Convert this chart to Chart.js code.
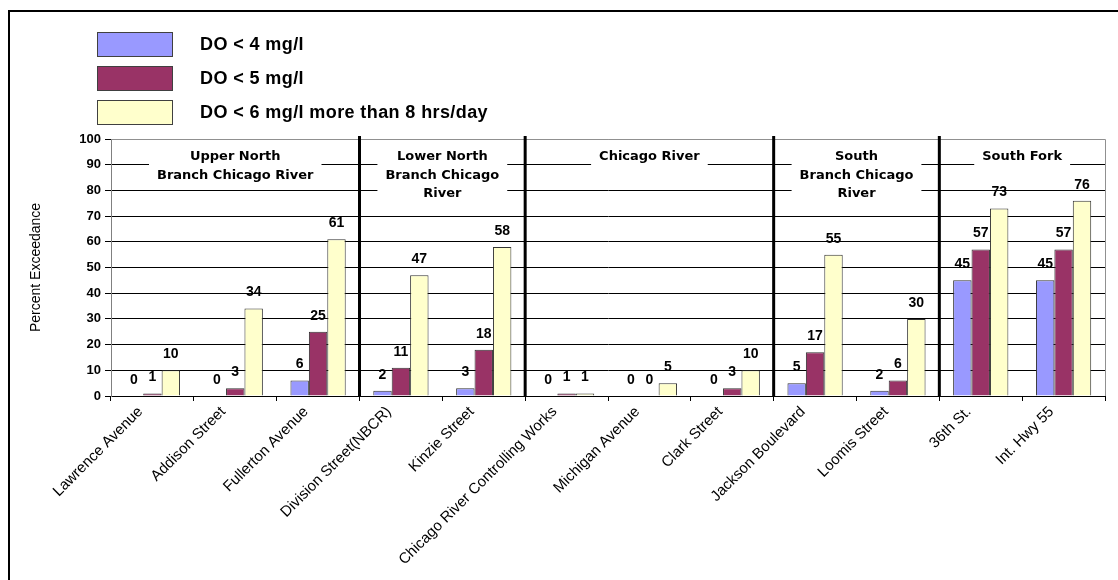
<!DOCTYPE html>
<html>
<head>
<meta charset="utf-8">
<script src="https://cdn.jsdelivr.net/npm/chart.js@4.4.1/dist/chart.umd.min.js"></script>
<style>
  html, body { margin: 0; padding: 0; background: #fff; overflow: hidden; }
  #frame { position: absolute; left: 8px; top: 10px; width: 1130px; height: 600px;
           border-left: 2px solid #000; border-top: 2px solid #000; box-sizing: border-box; }
  #wrap { position: absolute; left: 0; top: 0; width: 1118px; height: 580px; }
  #legend { position: absolute; left: 97px; top: 27px;
            font: bold 18px "Liberation Sans", Arial, sans-serif; letter-spacing: 0.4px; color: #000; }
  #legend .row { display: flex; align-items: center; height: 34px; }
  #legend .sw { width: 74px; height: 23px; border: 1px solid #404040; margin-right: 27px; }
</style>
</head>
<body>
<div id="frame"></div>
<div id="wrap"><canvas id="c"></canvas></div>
<div id="legend"></div>
<script>
// Sampling stations along the Chicago River system
const stations = [
  "Lawrence Avenue", "Addison Street", "Fullerton Avenue",
  "Division Street(NBCR)", "Kinzie Street",
  "Chicago River Controlling Works", "Michigan Avenue", "Clark Street",
  "Jackson Boulevard", "Loomis Street",
  "36th St.", "Int. Hwy 55"
];

// Percent of time dissolved oxygen falls below each threshold
const doBelow4 = [0, 0, 6, 2, 3, 0, 0, 0, 5, 2, 45, 45];
const doBelow5 = [1, 3, 25, 11, 18, 1, 0, 3, 17, 6, 57, 57];
const doBelow6 = [10, 34, 61, 47, 58, 1, 5, 10, 55, 30, 73, 76];

const seriesNames = ["DO < 4 mg/l", "DO < 5 mg/l", "DO < 6 mg/l more than 8 hrs/day"];
const seriesColors = ["#9999FF", "#993366", "#FFFFCC"];

// River reaches and how many stations belong to each
const reachNames = [
  ["Upper North", "Branch Chicago River"],
  ["Lower North", "Branch Chicago", "River"],
  ["Chicago River"],
  ["South", "Branch Chicago", "River"],
  ["South Fork"]
];
const reachSizes = [3, 2, 3, 2, 2];

const yTicks = [0, 10, 20, 30, 40, 50, 60, 70, 80, 90, 100];

// Legend
const legendEl = document.getElementById("legend");
seriesNames.forEach((name, i) => {
  const row = document.createElement("div");
  row.className = "row";
  const sw = document.createElement("div");
  sw.className = "sw";
  sw.style.background = seriesColors[i];
  const tx = document.createElement("span");
  tx.textContent = name;
  row.appendChild(sw);
  row.appendChild(tx);
  legendEl.appendChild(row);
});

// White label boxes with the reach names, drawn over the gridlines
const reachLabels = {
  id: "reachLabels",
  beforeDatasetsDraw(chart) {
    const { ctx, chartArea } = chart;
    const xs = chart.scales.x;
    ctx.save();
    // plot border (top and right)
    ctx.strokeStyle = "#909090";
    ctx.lineWidth = 1;
    ctx.beginPath();
    ctx.moveTo(chartArea.left, chartArea.top + 0.5);
    ctx.lineTo(chartArea.right + 0.5, chartArea.top + 0.5);
    ctx.lineTo(chartArea.right + 0.5, chartArea.bottom);
    ctx.stroke();

    ctx.font = 'bold 13px "DejaVu Sans", sans-serif';
    ctx.textAlign = "center";
    ctx.textBaseline = "middle";
    const half = (xs.getPixelForValue(1) - xs.getPixelForValue(0)) / 2;
    let start = 0;
    reachNames.forEach((lines, g) => {
      const end = start + reachSizes[g] - 1;
      const cx = (xs.getPixelForValue(start) - half + xs.getPixelForValue(end) + half) / 2;
      const w = Math.max(...lines.map(l => ctx.measureText(l).width));
      const top = chartArea.top + 6;
      const bottom = chartArea.top + 18 + (lines.length - 1) * 18.5 + 11;
      ctx.fillStyle = "#fff";
      ctx.fillRect(cx - w / 2 - 8, top, w + 16, bottom - top);
      ctx.fillStyle = "#000";
      lines.forEach((l, i) => ctx.fillText(l, cx, chartArea.top + 18 + i * 18.5));
      start = end + 1;
    });
    ctx.restore();
  },
  afterDatasetsDraw(chart) {
    const { ctx, chartArea } = chart;
    const xs = chart.scales.x;
    ctx.save();
    // value labels above bars
    ctx.font = 'bold 14px "Liberation Sans", Arial, sans-serif';
    ctx.fillStyle = "#000";
    ctx.textAlign = "center";
    ctx.textBaseline = "middle";
    chart.data.datasets.forEach((ds, di) => {
      chart.getDatasetMeta(di).data.forEach((bar, i) => {
        ctx.fillText(String(ds.data[i]), bar.x, bar.y - 16);
      });
    });
    // heavy separators between reaches
    ctx.strokeStyle = "#000";
    ctx.lineWidth = 3;
    let idx = 0;
    for (let g = 0; g < reachSizes.length - 1; g++) {
      idx += reachSizes[g];
      const x = (xs.getPixelForValue(idx - 1) + xs.getPixelForValue(idx)) / 2;
      ctx.beginPath();
      ctx.moveTo(x, chartArea.top - 3);
      ctx.lineTo(x, chartArea.bottom);
      ctx.stroke();
    }
    ctx.restore();
  }
};

new Chart(document.getElementById("c"), {
  type: "bar",
  data: {
    labels: stations,
    datasets: [doBelow4, doBelow5, doBelow6].map((d, i) => ({
      label: seriesNames[i],
      data: d,
      backgroundColor: seriesColors[i],
      borderColor: "#333",
      borderWidth: 1,
      categoryPercentage: 0.667,
      barPercentage: 1.0
    }))
  },
  options: {
    responsive: true,
    maintainAspectRatio: false,
    animation: false,
    layout: { padding: { left: 22, top: 139, right: 13, bottom: 0 } },
    plugins: { legend: { display: false }, tooltip: { enabled: false } },
    scales: {
      x: {
        afterFit(scale) { scale.height = 184; },
        grid: { drawOnChartArea: false, drawTicks: true, tickLength: 5, offset: true, color: "#000" },
        border: { color: "#000", width: 1 },
        ticks: {
          autoSkip: false, maxRotation: 45, minRotation: 45, padding: 2, labelOffset: -12,
          color: "#000",
          font: { family: '"Liberation Sans", Arial, sans-serif', size: 15 }
        }
      },
      y: {
        min: 0, max: 100,
        afterFit(scale) { scale.width = 89; },
        afterBuildTicks(scale) { scale.ticks = yTicks.map(v => ({ value: v })); },
        grid: {
          color: c => (c.tick && c.tick.value === 100 ? "#909090" : "#000"),
          tickColor: "#000", tickLength: 6, lineWidth: 1
        },
        border: { color: "#808080", width: 1 },
        title: {
          display: true, text: "Percent Exceedance", color: "#000",
          font: { family: '"Liberation Sans", Arial, sans-serif', size: 14 },
          padding: { top: 6, bottom: 0 }
        },
        ticks: {
          padding: 4, color: "#000",
          font: { family: '"Liberation Sans", Arial, sans-serif', size: 13, weight: "bold" }
        }
      }
    }
  },
  plugins: [reachLabels]
});
</script>
</body>
</html>
